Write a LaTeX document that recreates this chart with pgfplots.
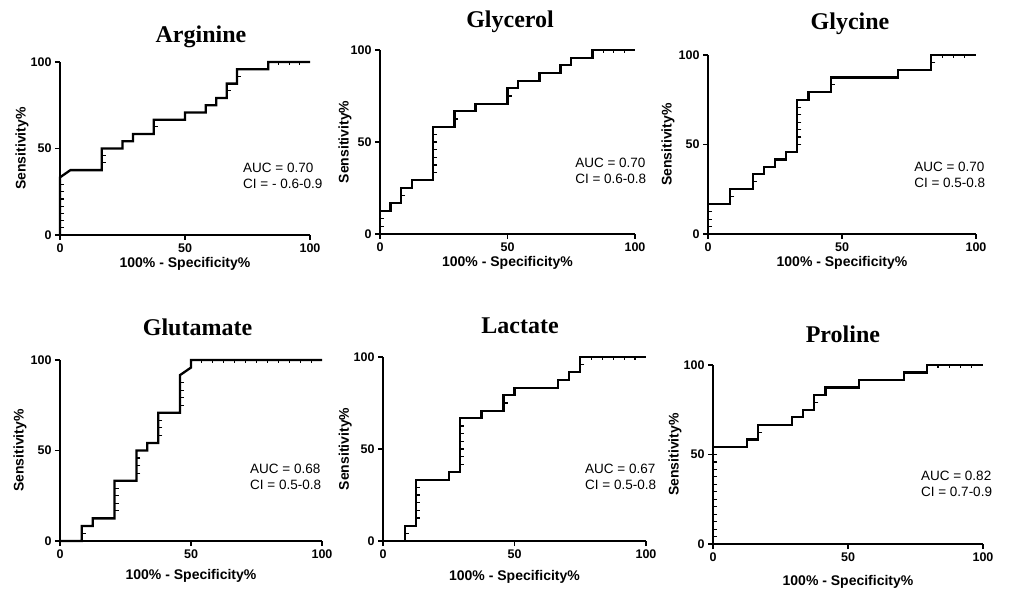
\documentclass[border=0pt]{standalone}
\usepackage{fontspec}
\setmainfont{Liberation Sans}
\newfontfamily\titleserif{Liberation Serif}
\usepackage{pgfplots}
\pgfplotsset{compat=1.18}
\pgfplotsset{
  roc/.style={
    scale only axis,
    xmin=0, xmax=100, ymin=0, ymax=100,
    axis x line=bottom, axis y line=left,
    axis line style={line width=2bp, black, -},
    xtick={0,50,100}, ytick={0,50,100},
    tick align=outside, major tick length=5bp,
    tick style={line width=1.6bp, black},
    /pgf/number format/assume math mode=true,
    ticklabel style={font=\fontsize{12.5bp}{14bp}\selectfont\bfseries},
    xlabel={100\% - Specificity\%},
    ylabel={Sensitivity\%},
    label style={font=\fontsize{14bp}{16bp}\selectfont\bfseries},
    clip=false,
  },
  curve/.style={black, line width=2.3bp, line join=miter, mark=none},
  vmarks/.style={only marks, mark=-, mark size=2.2bp, mark options={line width=1.1bp, xshift=1.8bp}},
  hmarks/.style={only marks, mark=|, mark size=1.6bp, mark options={line width=1.1bp, yshift=-1bp}},
}
\newcommand{\ttl}{\fontsize{24bp}{28bp}\selectfont\titleserif\bfseries}
\newcommand{\auc}{\fontsize{13.5bp}{16bp}\selectfont}
\begin{document}
\begin{tikzpicture}
\useasboundingbox (0,0) rectangle (1011bp,590bp);
% Arginine
\begin{axis}[roc, at={(60bp,355bp)}, anchor=south west, width=250bp, height=173bp,
  xlabel style={at={(axis description cs:0.5,0)}, anchor=center, yshift=-29bp},
  ylabel style={at={(axis description cs:-0.152,0.5)}, anchor=center}]
\addplot[curve] coordinates {(0,0)(0,33.33)(4.17,37.5)(16.67,37.5)(16.67,50)(25,50)(25,54.17)(29.17,54.17)(29.17,58.33)(37.5,58.33)(37.5,66.67)(50,66.67)(50,70.83)(58.33,70.83)(58.33,75)(62.5,75)(62.5,79.17)(66.67,79.17)(66.67,87.5)(70.83,87.5)(70.83,95.83)(83.33,95.83)(83.33,100)(100,100)};
\addplot[vmarks] coordinates {(0,4.17)(0,8.33)(0,12.5)(0,16.67)(0,20.83)(0,25)(0,29.17)(16.67,41.67)(16.67,45.83)(37.5,62.5)(66.67,83.33)(70.83,91.67)};
\addplot[hmarks] coordinates {(87.5,100)(91.67,100)(95.83,100)};
\node[font=\ttl, anchor=base] at (rel axis cs:0.564,1.112) {Arginine};
\node[font=\auc, anchor=west, align=left, inner sep=0pt] at (axis cs:73.2,34.1) {AUC = 0.70\\CI = - 0.6-0.9};
\end{axis}
% Glycerol
\begin{axis}[roc, at={(380bp,356bp)}, anchor=south west, width=255bp, height=184bp,
  xlabel style={at={(axis description cs:0.5,0)}, anchor=center, yshift=-29bp},
  ylabel style={at={(axis description cs:-0.137,0.5)}, anchor=center}]
\addplot[curve] coordinates {(0,0)(0,12.5)(4.17,12.5)(4.17,16.67)(8.33,16.67)(8.33,25)(12.5,25)(12.5,29.17)(20.83,29.17)(20.83,58.33)(29.17,58.33)(29.17,66.67)(37.5,66.67)(37.5,70.83)(50,70.83)(50,79.17)(54.17,79.17)(54.17,83.33)(62.5,83.33)(62.5,87.5)(70.83,87.5)(70.83,91.67)(75,91.67)(75,95.83)(83.33,95.83)(83.33,100)(100,100)};
\addplot[vmarks] coordinates {(0,4.17)(0,8.33)(8.33,20.83)(20.83,33.33)(20.83,37.5)(20.83,41.67)(20.83,45.83)(20.83,50)(20.83,54.17)(29.17,62.5)(50,75)};
\addplot[hmarks] coordinates {(87.5,100)(91.67,100)(95.83,100)};
\node[font=\ttl, anchor=base] at (rel axis cs:0.51,1.12) {Glycerol};
\node[font=\auc, anchor=west, align=left, inner sep=0pt] at (axis cs:76.5,34.5) {AUC = 0.70\\CI = 0.6-0.8};
\end{axis}
% Glycine
\begin{axis}[roc, at={(708bp,356bp)}, anchor=south west, width=268bp, height=179bp,
  xlabel style={at={(axis description cs:0.5,0)}, anchor=center, yshift=-29bp},
  ylabel style={at={(axis description cs:-0.149,0.5)}, anchor=center}]
\addplot[curve] coordinates {(0,0)(0,16.67)(8.33,16.67)(8.33,25)(16.67,25)(16.67,33.33)(20.83,33.33)(20.83,37.5)(25,37.5)(25,41.67)(29.17,41.67)(29.17,45.83)(33.33,45.83)(33.33,75)(37.5,75)(37.5,79.17)(45.83,79.17)(45.83,87.5)(70.83,87.5)(70.83,91.67)(83.33,91.67)(83.33,100)(100,100)};
\addplot[vmarks] coordinates {(0,4.17)(0,8.33)(0,12.5)(8.33,20.83)(16.67,29.17)(33.33,50)(33.33,54.17)(33.33,58.33)(33.33,62.5)(33.33,66.67)(33.33,70.83)(45.83,83.33)(83.33,95.83)};
\addplot[hmarks] coordinates {(87.5,100)(91.67,100)(95.83,100)};
\node[font=\ttl, anchor=base] at (rel axis cs:0.53,1.14) {Glycine};
\node[font=\auc, anchor=west, align=left, inner sep=0pt] at (axis cs:76.9,33) {AUC = 0.70\\CI = 0.5-0.8};
\end{axis}
% Glutamate
\begin{axis}[roc, at={(60bp,49bp)}, anchor=south west, width=262bp, height=181bp,
  xlabel style={at={(axis description cs:0.5,0)}, anchor=center, yshift=-35bp},
  ylabel style={at={(axis description cs:-0.153,0.5)}, anchor=center}]
\addplot[curve] coordinates {(0,0)(8.33,0)(8.33,8.33)(12.5,8.33)(12.5,12.5)(20.83,12.5)(20.83,33.33)(29.17,33.33)(29.17,50)(33.33,50)(33.33,54.17)(37.5,54.17)(37.5,70.83)(45.83,70.83)(45.83,91.67)(50,95.83)(50,100)(100,100)};
\addplot[vmarks] coordinates {(8.33,4.17)(20.83,16.67)(20.83,20.83)(20.83,25)(20.83,29.17)(29.17,37.5)(29.17,41.67)(29.17,45.83)(37.5,58.33)(37.5,62.5)(37.5,66.67)(45.83,75)(45.83,79.17)(45.83,83.33)(45.83,87.5)};
\addplot[hmarks] coordinates {(54.17,100)(58.33,100)(62.5,100)(66.67,100)(70.83,100)(75,100)(79.17,100)(83.33,100)(87.5,100)(91.67,100)(95.83,100)};
\node[font=\ttl, anchor=base] at (rel axis cs:0.525,1.138) {Glutamate};
\node[font=\auc, anchor=west, align=left, inner sep=0pt] at (axis cs:72.5,35.4) {AUC = 0.68\\CI = 0.5-0.8};
\end{axis}
% Lactate
\begin{axis}[roc, at={(383bp,49bp)}, anchor=south west, width=263bp, height=184bp,
  xlabel style={at={(axis description cs:0.5,0)}, anchor=center, yshift=-36bp},
  ylabel style={at={(axis description cs:-0.144,0.5)}, anchor=center}]
\addplot[curve] coordinates {(0,0)(8.33,0)(8.33,8.33)(12.5,8.33)(12.5,33.33)(25,33.33)(25,37.5)(29.17,37.5)(29.17,66.67)(37.5,66.67)(37.5,70.83)(45.83,70.83)(45.83,79.17)(50,79.17)(50,83.33)(66.67,83.33)(66.67,87.5)(70.83,87.5)(70.83,91.67)(75,91.67)(75,100)(100,100)};
\addplot[vmarks] coordinates {(8.33,4.17)(12.5,12.5)(12.5,16.67)(12.5,20.83)(12.5,25)(12.5,29.17)(29.17,41.67)(29.17,45.83)(29.17,50)(29.17,54.17)(29.17,58.33)(29.17,62.5)(45.83,75)(75,95.83)};
\addplot[hmarks] coordinates {(79.17,100)(83.33,100)(87.5,100)(91.67,100)(95.83,100)};
\node[font=\ttl, anchor=base] at (rel axis cs:0.521,1.13) {Lactate};
\node[font=\auc, anchor=west, align=left, inner sep=0pt] at (axis cs:76.8,35) {AUC = 0.67\\CI = 0.5-0.8};
\end{axis}
% Proline
\begin{axis}[roc, at={(713bp,46bp)}, anchor=south west, width=270bp, height=179bp,
  xlabel style={at={(axis description cs:0.5,0)}, anchor=center, yshift=-38bp},
  ylabel style={at={(axis description cs:-0.141,0.5)}, anchor=center}]
\addplot[curve] coordinates {(0,0)(0,54.17)(12.5,54.17)(12.5,58.33)(16.67,58.33)(16.67,66.67)(29.17,66.67)(29.17,70.83)(33.33,70.83)(33.33,75)(37.5,75)(37.5,83.33)(41.67,83.33)(41.67,87.5)(54.17,87.5)(54.17,91.67)(70.83,91.67)(70.83,95.83)(79.17,95.83)(79.17,100)(100,100)};
\addplot[vmarks] coordinates {(0,4.17)(0,8.33)(0,12.5)(0,16.67)(0,20.83)(0,25)(0,29.17)(0,33.33)(0,37.5)(0,41.67)(0,45.83)(0,50)(16.67,62.5)(37.5,79.17)};
\addplot[hmarks] coordinates {(83.33,100)(87.5,100)(91.67,100)(95.83,100)};
\node[font=\ttl, anchor=base] at (rel axis cs:0.481,1.123) {Proline};
\node[font=\auc, anchor=west, align=left, inner sep=0pt] at (axis cs:77,33.5) {AUC = 0.82\\CI = 0.7-0.9};
\end{axis}
\end{tikzpicture}
\end{document}
